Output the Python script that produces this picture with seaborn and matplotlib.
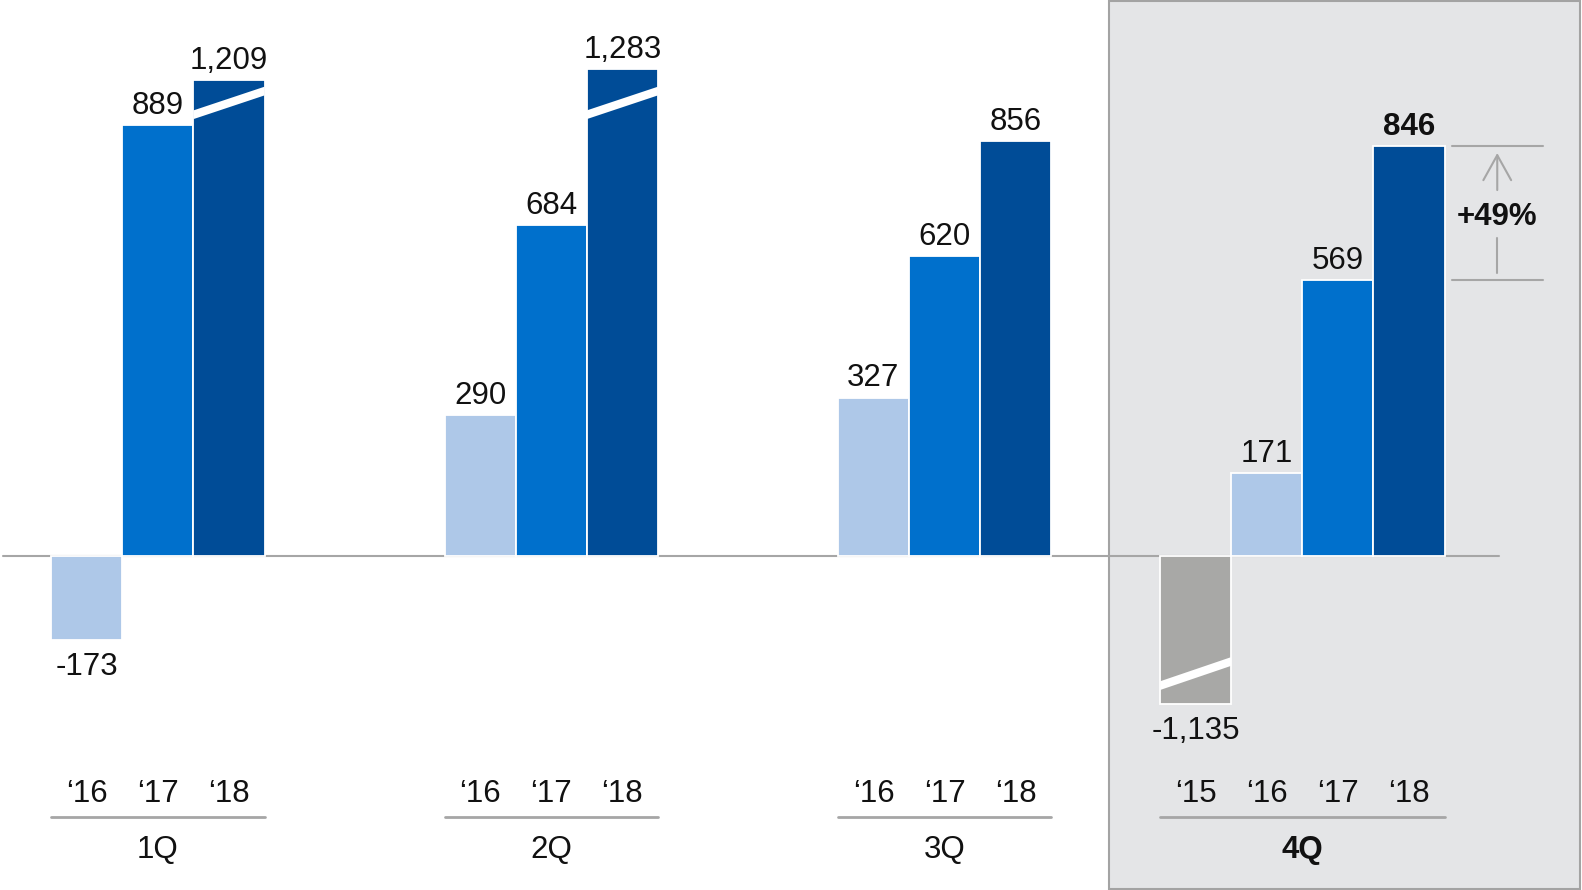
import numpy as np
import pandas as pd
import seaborn as sns
import matplotlib.pyplot as plt
from matplotlib.patches import Rectangle, Polygon

# ---------------- data ----------------
quarters = ['1Q', '2Q', '3Q', '4Q']
q1_years = ['16', '17', '18']
q1_values = [-173, 889, 1209]
q2_years = ['16', '17', '18']
q2_values = [290, 684, 1283]
q3_years = ['16', '17', '18']
q3_values = [327, 620, 856]
q4_years = ['15', '16', '17', '18']
q4_values = [-1135, 171, 569, 846]
growth_label = '+49%'

# bars drawn with a broken (truncated) scale: displayed height
broken_heights = {('1Q', '18'): 983, ('2Q', '18'): 1006, ('4Q', '15'): -306}

# ---------------- layout / style ----------------
group_starts = [0, 5.53, 11.06, 15.59]
break_bands = {('1Q', '18'): (911, 960), ('2Q', '18'): (911, 960), ('4Q', '15'): (-268, -218)}
band_thick = 18
palette = {'15': '#A8A8A6', '16': '#AEC8E8', '17': '#0070CC', '18': '#004C97'}
line_gray = '#A6A6A6'
panel_face = '#E4E5E7'
fs = 22.5

sns.set_theme(style='white')
plt.rcParams['font.family'] = ['Liberation Sans', 'DejaVu Sans']

rows = []
for q, start, yrs, vals in zip(quarters, group_starts,
                               [q1_years, q2_years, q3_years, q4_years],
                               [q1_values, q2_values, q3_values, q4_values]):
    for i, (yr, v) in enumerate(zip(yrs, vals)):
        rows.append(dict(quarter=q, year=yr, value=v, x=start + i,
                         height=broken_heights.get((q, yr), v)))
df = pd.DataFrame(rows)

fig = plt.figure(figsize=(15.82, 8.9), dpi=100)
fig.patch.set_facecolor('white')
ax = fig.add_axes([0, 0, 1, 1])

# highlighted panel for 4Q
ax.add_patch(Rectangle((0.7009, 0.0012), 0.2978, 0.9976, transform=ax.transAxes,
                       facecolor=panel_face, edgecolor='#A3A3A3', lw=1.5,
                       zorder=0, clip_on=False))

sns.barplot(data=df, x='x', y='height', hue='year', palette=palette,
            native_scale=True, dodge=False, width=1.0, edgecolor='white',
            linewidth=1.3, errorbar=None, legend=False, saturation=1,
            ax=ax, zorder=3)

ax.set_xlim(-86 / 70.5, (1568 - 86) / 70.5)
ax.set_ylim(-690, 1148)
ax.axis('off')

# zero line
ax.plot([(3 - 86) / 70.5, (1486 - 86) / 70.5], [0, 0], color=line_gray, lw=1.5, zorder=2)

# break bands
for _, r in df.iterrows():
    key = (r.quarter, r.year)
    if key in break_bands:
        lc, rc = break_bands[key]
        xl, xr = r.x - 0.5, r.x + 0.5
        h = band_thick / 2
        ax.add_patch(Polygon([(xl, lc - h), (xr, rc - h), (xr, rc + h), (xl, lc + h)],
                             closed=True, facecolor='white', edgecolor='none', zorder=4))

# value labels
for _, r in df.iterrows():
    bold = (r.quarter == '4Q' and r.year == '18')
    txt = f"{r.value:,}"
    if r.value >= 0:
        y = r.height + 23
    else:
        y = r.height - 72
    ax.text(r.x, y, txt, ha='center', va='baseline', fontsize=fs,
            fontweight='bold' if bold else 'normal', color='#111111', zorder=5)

# year labels, underlines, quarter labels
tr = ax.get_xaxis_transform()
for q in quarters:
    sub = df[df.quarter == q]
    for _, r in sub.iterrows():
        ax.text(r.x, 0.0992, '\u2018' + r.year, transform=tr, ha='center', va='baseline',
                fontsize=fs, color='#111111')
    x0, x1 = sub.x.min() - 0.5, sub.x.max() + 0.5
    ax.plot([x0, x1], [0.082, 0.082], transform=tr, color=line_gray, lw=2, clip_on=False)
    ax.text((x0 + x1) / 2, 0.0356, q, transform=tr, ha='center', va='baseline',
            fontsize=fs, color='#111111', fontweight='bold' if q == '4Q' else 'normal')

# growth annotation
top = q4_values[3]
bot = q4_values[2]
mid = (top + bot) / 2
bx0, bx1 = (1439 - 86) / 70.5, (1529 - 86) / 70.5
ax_x = (1484 - 86) / 70.5
ax.plot([bx0, bx1], [top, top], color=line_gray, lw=1.5, zorder=2)
ax.plot([bx0, bx1], [bot, bot], color=line_gray, lw=1.5, zorder=2)
ax.annotate('', xy=(ax_x, top - 14), xytext=(ax_x, mid + 48),
            arrowprops=dict(arrowstyle='->,head_length=0.9,head_width=0.5',
                            color=line_gray, lw=1.5, mutation_scale=20,
                            shrinkA=0, shrinkB=0))
ax.plot([ax_x, ax_x], [mid - 52, bot + 15], color=line_gray, lw=1.5)
ax.text(ax_x, mid - 8, growth_label, ha='center', va='center', fontsize=fs,
        fontweight='bold', color='#111111')

fig.savefig('out.png', dpi=100, facecolor='white')
